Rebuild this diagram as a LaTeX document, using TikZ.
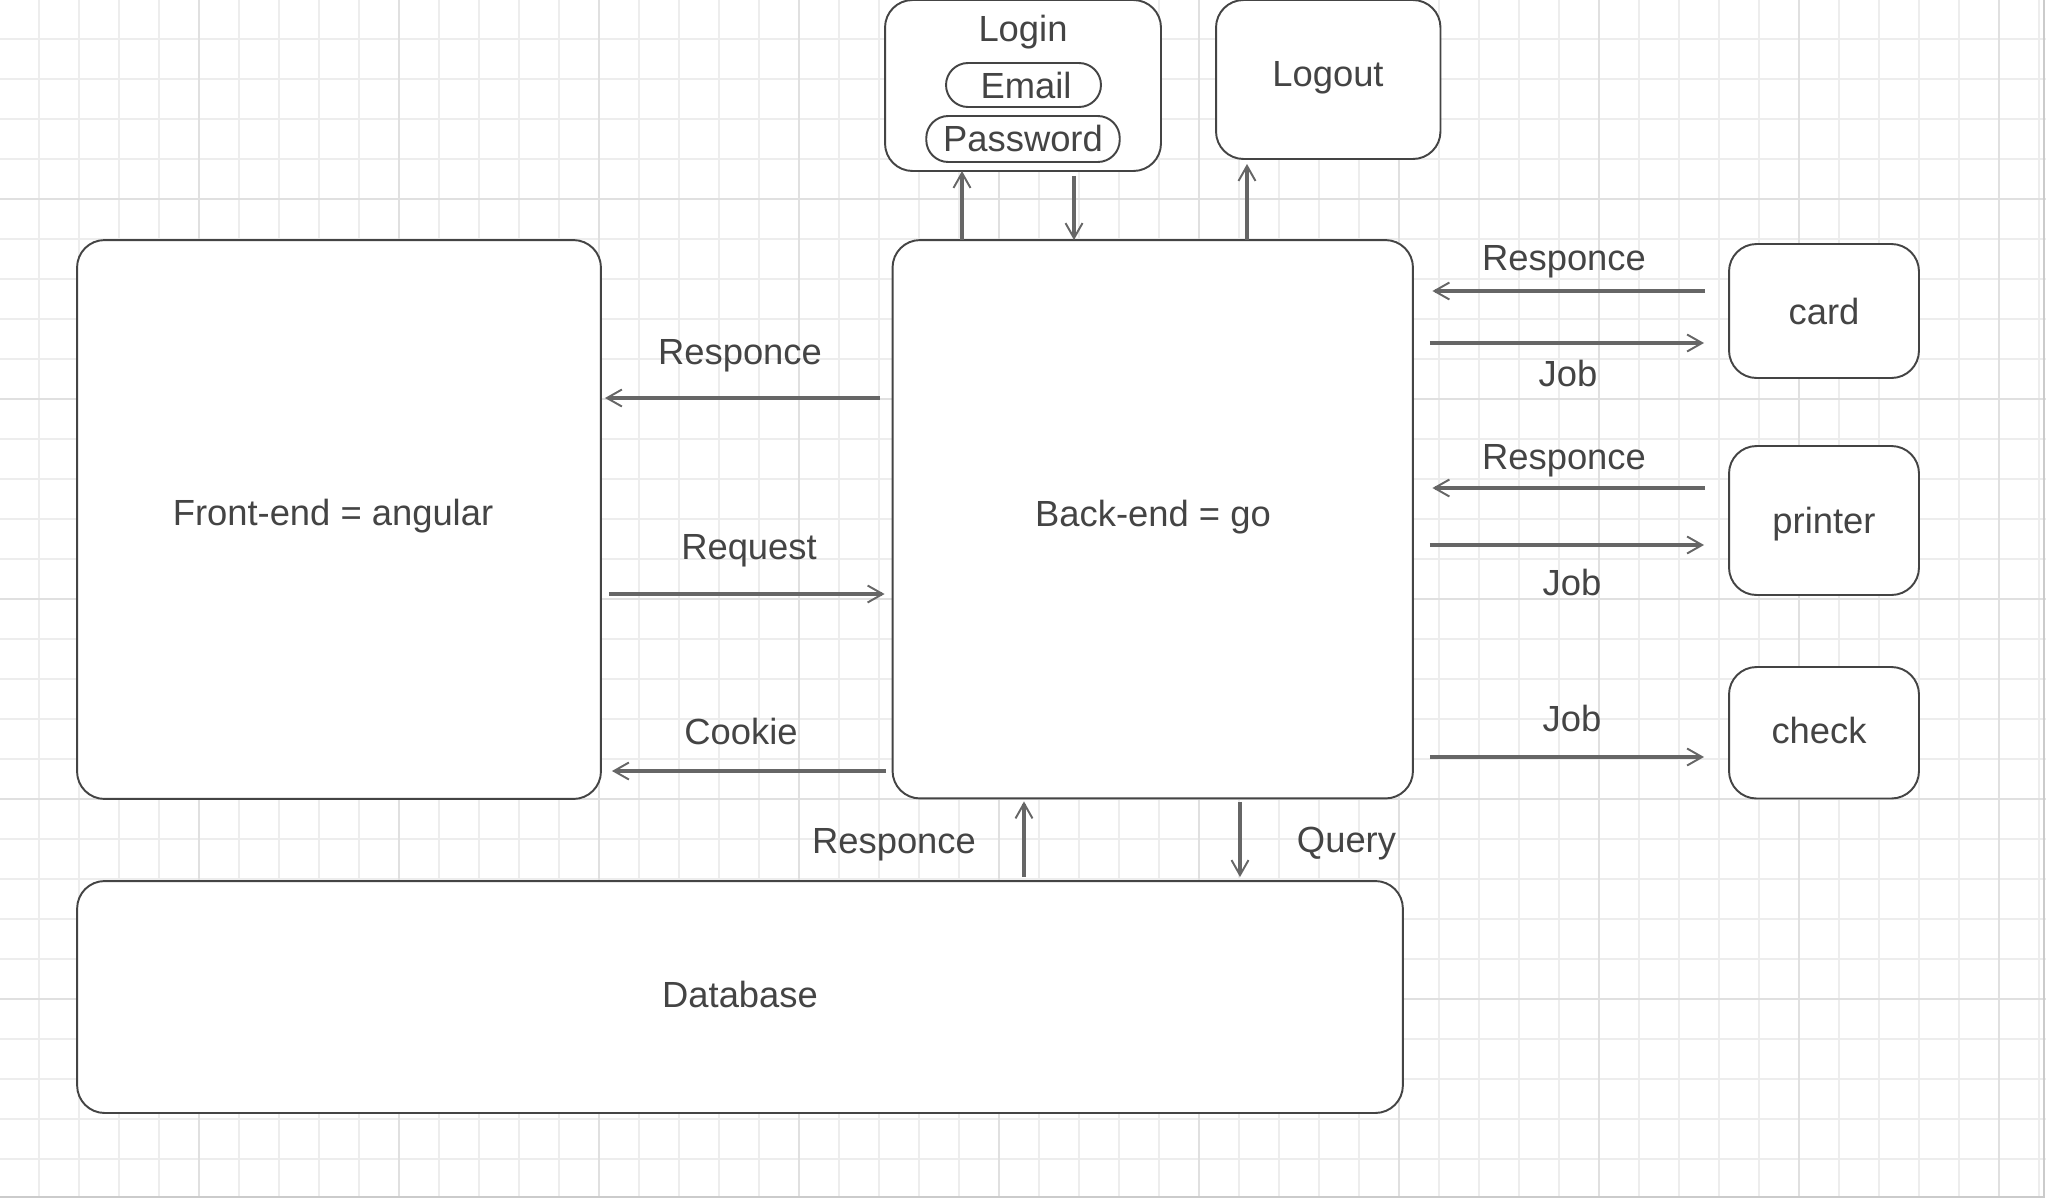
\documentclass[tikz,border=0pt]{standalone}
\usepackage{fontspec}
\setmainfont{Liberation Sans}
\usetikzlibrary{arrows.meta, calc, positioning}
\definecolor{gridminor}{HTML}{EDEDED}
\definecolor{gridmajor}{HTML}{E0E0E0}
\definecolor{edgec}{HTML}{CBCBCB}
\definecolor{boxc}{HTML}{444444}
\definecolor{arrc}{HTML}{666666}
\definecolor{txtc}{HTML}{444444}

\begin{document}
\begin{tikzpicture}[x=0.02cm, y=-0.02cm,
    >={Straight Barb[length=0.3cm, width=0.34cm, line width=1.1pt]},
    every node/.style={text=txtc, inner sep=0pt, outer sep=0pt, font=\fontsize{20.7}{24}\selectfont},
    box/.style={draw=boxc, fill=white, line width=1.1pt, rounded corners=0.55cm},
    pill/.style={draw=boxc, fill=white, line width=1.1pt, rounded corners=0.44cm},
    txt/.style={anchor=base},
    link/.style={draw=arrc, line width=1.9pt}]
        \useasboundingbox (0,0) rectangle (2046,1198);

        % Luoi nen
        \foreach \i in {1,...,51} \draw[gridminor, line width=0.7pt] (40*\i-1,0) -- (40*\i-1,1198);
        \foreach \j in {1,...,29} \draw[gridminor, line width=0.7pt] (0,40*\j-1) -- (2046,40*\j-1);
        \foreach \i in {1,...,10} \draw[gridmajor, line width=0.7pt] (200*\i-1,0) -- (200*\i-1,1198);
        \foreach \j in {1,...,5} \draw[gridmajor, line width=0.7pt] (0,200*\j-1) -- (2046,200*\j-1);
        \draw[edgec, line width=1.2pt] (2044,0) -- (2044,1197) -- (0,1197);

        % Cac khoi chinh
        \node[box, minimum width=10.48cm, minimum height=11.18cm] (front) at (339,519.5) {};
        \node[box, minimum width=10.41cm, minimum height=11.17cm] (back) at (1152.75,519.25) {};
        \node[box, minimum width=26.52cm, minimum height=4.64cm] (db) at (740,997) {};
        \node[txt] (fronttxt) at (333,525.7) {Front-end = angular};
        \node[txt] (backtxt) at (1153,526) {Back-end = go};
        \node[txt] (dbtxt) at (740,1007.3) {Database};

        % Login / Logout
        \node[box, minimum width=5.52cm, minimum height=3.42cm] (login) at (1023,85.5) {};
        \node[txt] (logintxt) at (1023,41.7) {Login};
        \node[pill, minimum width=3.1cm, minimum height=0.88cm] (email) at (1023.5,85) {};
        \node[txt] (emailtxt) at (1026,98) {Email};
        \node[pill, minimum width=3.87cm, minimum height=0.92cm] (passwd) at (1023,139) {};
        \node[txt] (passwdtxt) at (1023,151) {Password};
        \node[box, minimum width=4.49cm, minimum height=3.18cm] (logout) at (1328.25,79.5) {};
        \node[txt] (logouttxt) at (1328,86.5) {Logout};

        % Thiet bi
        \node[box, minimum width=3.8cm, minimum height=2.68cm] (card) at (1824,311) {};
        \node[box, minimum width=3.8cm, minimum height=2.98cm] (printer) at (1824,520.5) {};
        \node[box, minimum width=3.8cm, minimum height=2.63cm] (check) at (1824,732.75) {};
        \node[txt] (cardtxt) at (1824,324) {card};
        \node[txt] (printertxt) at (1824,533) {printer};
        \node[txt] (checktxt) at (1819,743) {check};

        % Front-end <-> Back-end
        \coordinate (rowresp) at (0,398);
        \coordinate (rowreq) at (0,594);
        \coordinate (rowcook) at (0,771);
        \draw[link, ->, shorten <=0.26cm, shorten >=0.08cm] (back.west |- rowresp) -- (front.east |- rowresp);
        \draw[link, ->, shorten <=0.16cm, shorten >=0.16cm] (front.east |- rowreq) -- (back.west |- rowreq);
        \draw[link, ->, shorten <=0.13cm, shorten >=0.22cm] (back.west |- rowcook) -- (front.east |- rowcook);
        \node[txt] (lblresp) at (740,364) {Responce};
        \node[txt] (lblreq) at (749,559.5) {Request};
        \node[txt] (lblcook) at (741,744) {Cookie};

        % Back-end <-> Login, Logout
        \coordinate (colin) at (962,0);
        \coordinate (colout) at (1074,0);
        \coordinate (collogout) at (1247,0);
        \draw[link, ->] (back.north -| colin) -- (login.south -| colin);
        \draw[link, ->, shorten <=0.1cm] (login.south -| colout) -- (back.north -| colout);
        \draw[link, ->, shorten >=0.1cm] (back.north -| collogout) -- (logout.south -| collogout);

        % Back-end <-> Database
        \coordinate (coldbresp) at (1024,0);
        \coordinate (colquery) at (1240,0);
        \draw[link, ->, shorten <=0.08cm, shorten >=0.06cm] (db.north -| coldbresp) -- (back.south -| coldbresp);
        \draw[link, ->, shorten <=0.07cm, shorten >=0.08cm] (back.south -| colquery) -- (db.north -| colquery);
        \node[txt] (lbldbresp) at (894,853.5) {Responce};
        \node[txt] (lblquery) at (1346.5,852.5) {Query};

        % Back-end <-> thiet bi
        \foreach \dev/\ry/\jy in {card/291/343, printer/488/545} {
            \coordinate (r) at (0,\ry);
            \coordinate (j) at (0,\jy);
            \draw[link, ->, shorten <=0.48cm, shorten >=0.39cm] (\dev.west |- r) -- (back.east |- r);
            \draw[link, ->, shorten <=0.34cm, shorten >=0.5cm] (back.east |- j) -- (\dev.west |- j);
        }
        \coordinate (rowcheck) at (0,757);
        \draw[link, ->, shorten <=0.34cm, shorten >=0.5cm] (back.east |- rowcheck) -- (check.west |- rowcheck);
        \node[txt] (lblcardresp) at (1564,270.5) {Responce};
        \node[txt] (lblcardjob) at (1568,386) {Job};
        \node[txt] (lblprnresp) at (1564,469.5) {Responce};
        \node[txt] (lblprnjob) at (1572,595) {Job};
        \node[txt] (lblchkjob) at (1572,731) {Job};
    \end{tikzpicture}
\end{document}
